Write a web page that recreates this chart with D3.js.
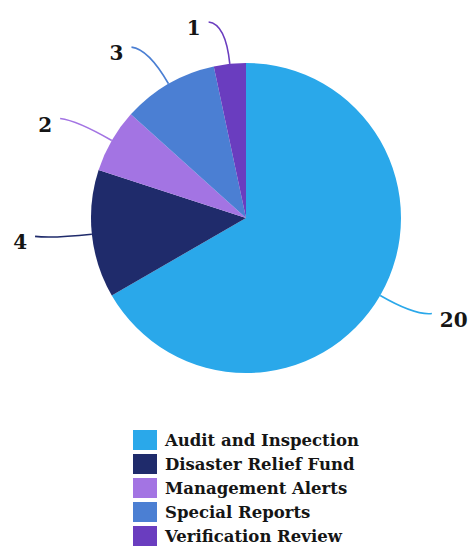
<!DOCTYPE html>
<html>
<head>
<meta charset="utf-8">
<script src="https://cdn.jsdelivr.net/npm/d3@7"></script>
<style>
  body { margin: 0; background: #fff; }
</style>
</head>
<body>
<script>
const WIDTH = 470;
const HEIGHT = 548;

// datos
const categorias = ["Audit and Inspection", "Disaster Relief Fund", "Management Alerts", "Special Reports", "Verification Review"];
const valores = [20, 4, 2, 3, 1];
const colores = ["#2aa8ea", "#1f2b6b", "#a374e3", "#4b7fd3", "#6a3dbf"];

const CX = 246, CY = 218, R = 155;

const svg = d3.select("body")
    .append("svg")
    .attr("width", WIDTH)
    .attr("height", HEIGHT)

const contenedorPie = svg.append("g")
    .attr("transform", `translate(${CX} ${CY})`);

const pie = d3.pie().sort(null).value((d) => d.valor);
const datos = categorias.map((c, i) => ({ categoria: c, valor: valores[i], color: colores[i] }));
const arcos = pie(datos);

const arco = d3.arc().innerRadius(0).outerRadius(R);

contenedorPie
    .selectAll("path.slice")
    .data(arcos)
    .join("path")
    .attr("class", "slice")
    .attr("d", arco)
    .attr("fill", (d) => d.data.color)

// lineas guia curvas
const punto = (a, r) => [r * Math.sin(a), -r * Math.cos(a)];
const medio = (d) => (d.startAngle + d.endAngle) / 2;
const lado = (d) => Math.sin(medio(d)) < 0 ? -1 : 1;
const fin = (d) => {
    const p1 = punto(medio(d), R + 40);
    return [p1[0] + lado(d) * 17, p1[1] - 2];
};

contenedorPie
    .selectAll("path.guia")
    .data(arcos)
    .join("path")
    .attr("class", "guia")
    .attr("fill", "none")
    .attr("stroke", (d) => d.data.color)
    .attr("stroke-width", 1.6)
    .attr("d", (d) => {
        const p0 = punto(medio(d), R);
        const p1 = punto(medio(d), R + 40);
        const p2 = fin(d);
        return `M${p0[0]},${p0[1]} Q${p1[0]},${p1[1]} ${p2[0]},${p2[1]}`;
    })

contenedorPie
    .selectAll("text.etiqueta")
    .data(arcos)
    .join("text")
    .attr("class", "etiqueta")
    .attr("x", (d) => fin(d)[0] + lado(d) * 8)
    .attr("y", (d) => fin(d)[1] + 13)
    .attr("text-anchor", (d) => lado(d) < 0 ? "end" : "start")
    .attr("font-family", "DejaVu Serif")
    .attr("font-weight", "bold")
    .attr("font-size", 20)
    .attr("fill", "#151515")
    .text((d) => d.data.valor)

// leyenda
const leyenda = svg.append("g")
    .attr("transform", "translate(133 430)");

const filas = leyenda
    .selectAll("g")
    .data(datos)
    .join("g")
    .attr("transform", (d, i) => `translate(0 ${i * 24})`)

filas.append("rect")
    .attr("width", 24)
    .attr("height", 20)
    .attr("fill", (d) => d.color)

filas.append("text")
    .attr("x", 32)
    .attr("y", 16)
    .attr("font-family", "DejaVu Serif")
    .attr("font-weight", "bold")
    .attr("font-size", 16.5)
    .attr("fill", "#151515")
    .text((d) => d.categoria)
</script>
</body>
</html>
